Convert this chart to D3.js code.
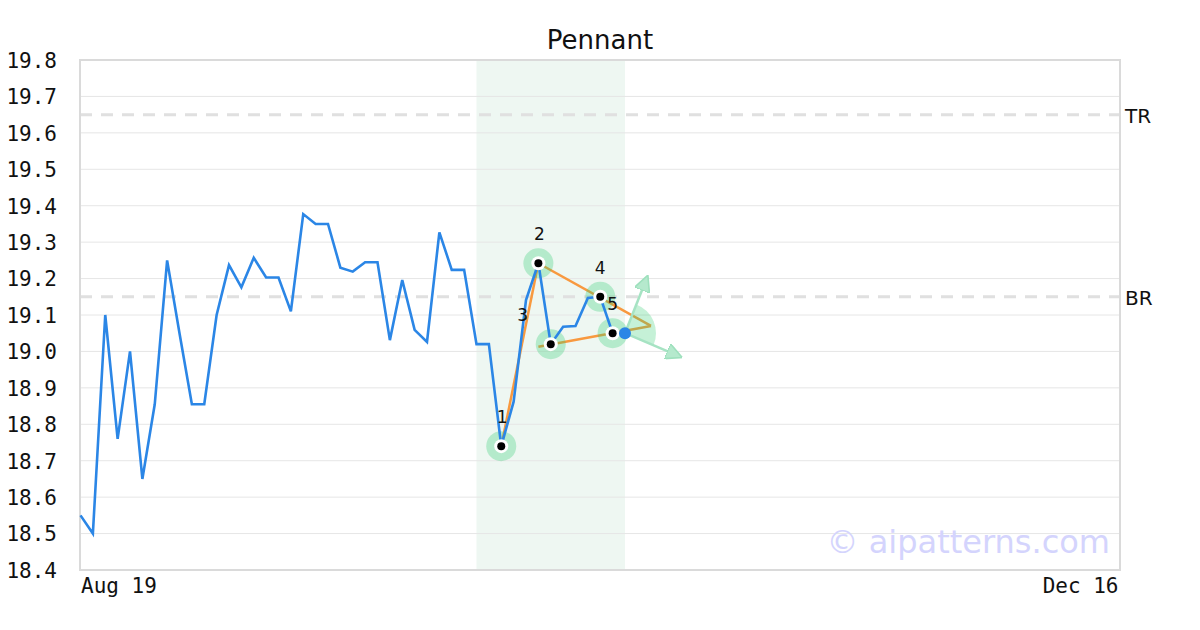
<!DOCTYPE html>
<html><head><meta charset="utf-8">
<script src="https://cdn.jsdelivr.net/npm/d3@7"></script>
<style>body{margin:0;background:#fff}svg{display:block}</style>
</head><body>
<svg id="c" width="1200" height="630"></svg>
<script>
const title = "Pennant";
const xTickLabels = ["Aug 19", "Dec 16"];
const xTickIndex = [0, 84];
const yTicks = [18.4,18.5,18.6,18.7,18.8,18.9,19.0,19.1,19.2,19.3,19.4,19.5,19.6,19.7,19.8];
const prices = [18.55,18.50,19.10,18.76,19.00,18.65,18.855,19.25,19.05,18.855,18.855,19.10,19.237,19.176,19.257,19.203,19.203,19.11,19.377,19.35,19.35,19.23,19.219,19.245,19.245,19.031,19.196,19.059,19.026,19.327,19.224,19.224,19.02,19.02,18.74,18.862,19.141,19.242,19.02,19.068,19.07,19.147,19.15,19.05,19.05];
const pivotIndex = [34, 37, 38, 42, 43];
const pivotLabels = ["1","2","3","4","5"];
const bandRange = [32, 44];
const levelNames = ["TR", "BR"];
const levelValues = [19.65, 19.15];
const poleLine = [[34, 18.74], [37, 19.242]];
const upperTrend = [[37, 19.242], [46.1, 19.07]];
const lowerTrend = [[37, 19.013], [46.1, 19.07]];
const arrowUp = [[44, 19.05], [45.8, 19.205]];
const arrowDown = [[44, 19.05], [48.5, 18.985]];
const watermark = "© aipatterns.com";

const svg = d3.select("#c");
const L = 80, R = 1120, T = 60, B = 570;
const x = d3.scaleLinear().domain([0, 84]).range([L + 0.5, R]);
const y = d3.scaleLinear().domain([18.4, 19.8]).range([B, T]);

// band
svg.append("rect").attr("x", x(bandRange[0])).attr("y", T)
  .attr("width", x(bandRange[1]) - x(bandRange[0])).attr("height", B - T)
  .attr("fill", "#eef7f2");

// grid
svg.append("g").selectAll("line").data(yTicks).join("line")
  .attr("x1", L).attr("x2", R).attr("y1", d => y(d)).attr("y2", d => y(d))
  .attr("stroke", "#e6e6e6").attr("stroke-width", 1);

// levels
svg.append("g").selectAll("line").data(levelValues).join("line")
  .attr("x1", L).attr("x2", R).attr("y1", d => y(d)).attr("y2", d => y(d))
  .attr("stroke", "#e0e0e0").attr("stroke-width", 3).attr("stroke-dasharray", "12,9");
svg.append("g").selectAll("text").data(levelNames).join("text")
  .attr("x", R + 5).attr("y", (d, i) => y(levelValues[i]) + 8)
  .attr("font-family", "DejaVu Sans").attr("font-size", 20).attr("fill", "#111").text(d => d);

// y axis labels
const yAxis = d3.axisLeft(y).tickValues(yTicks).tickFormat(d3.format(".1f")).tickSize(0).tickPadding(23);
const ya = svg.append("g").attr("transform", `translate(${L},0)`).call(yAxis);
ya.select(".domain").remove();
ya.selectAll("text").attr("font-family", "DejaVu Sans Mono").attr("font-size", 21).attr("fill", "#111").attr("dy", "0.35em");

// x labels
const xAxis = d3.axisBottom(x).tickValues(xTickIndex).tickFormat((d, i) => xTickLabels[i]).tickSize(0).tickPadding(8);
const xa = svg.append("g").attr("transform", `translate(0,${B})`).call(xAxis);
xa.select(".domain").remove();
xa.selectAll("text").attr("font-family", "DejaVu Sans Mono").attr("font-size", 21).attr("fill", "#111")
  .attr("text-anchor", (d, i) => i === 0 ? "start" : "end")
  .attr("dx", (d, i) => i === 0 ? 0 : -2);

// watermark
svg.append("text").attr("x", 1110).attr("y", 553).attr("text-anchor", "end")
  .attr("font-family", "DejaVu Sans").attr("font-size", 32).attr("fill", "#d4d4fd").text(watermark);

// border
svg.append("rect").attr("x", L).attr("y", T).attr("width", R - L).attr("height", B - T)
  .attr("fill", "none").attr("stroke", "#dadada").attr("stroke-width", 2);

// title
svg.append("text").attr("x", 600).attr("y", 49).attr("text-anchor", "middle")
  .attr("font-family", "DejaVu Sans").attr("font-size", 26).attr("fill", "#111").text(title);

const line = d3.line().x(d => x(d[0])).y(d => y(d[1]));

// orange pattern lines
[poleLine, upperTrend, lowerTrend].forEach(seg => {
  svg.append("path").attr("d", line(seg)).attr("fill", "none")
    .attr("stroke", "#f8993f").attr("stroke-width", 2.5);
});

// projection cone
const c0 = [x(arrowUp[0][0]), y(arrowUp[0][1])];
const aU = Math.atan2(y(arrowUp[1][1]) - c0[1], x(arrowUp[1][0]) - c0[0]);
const aD = Math.atan2(y(arrowDown[1][1]) - c0[1], x(arrowDown[1][0]) - c0[0]);
const arc = d3.arc().innerRadius(0).outerRadius(31)
  .startAngle(aU + Math.PI / 2).endAngle(aD + Math.PI / 2);
svg.append("path").attr("d", arc()).attr("transform", `translate(${c0[0]},${c0[1]})`)
  .attr("fill", "#2ecc71").attr("opacity", 0.28);

// arrows
const defs = svg.append("defs");
defs.append("marker").attr("id", "ah").attr("viewBox", "0 0 10 10").attr("refX", 9).attr("refY", 5)
  .attr("markerWidth", 6.5).attr("markerHeight", 6.5).attr("orient", "auto").attr("markerUnits", "strokeWidth")
  .append("path").attr("d", "M0,0 L10,5 L0,10 Z").attr("fill", "#b5e9cd").attr("stroke", "#9ee0bd").attr("stroke-width", 1);
[arrowUp, arrowDown].forEach(seg => {
  svg.append("path").attr("d", line(seg)).attr("fill", "none")
    .attr("stroke", "#a6e3c3").attr("stroke-width", 2.5).attr("marker-end", "url(#ah)");
});

// pivot halos
svg.append("g").selectAll("circle").data(pivotIndex).join("circle")
  .attr("cx", d => x(d)).attr("cy", d => y(prices[d])).attr("r", 15)
  .attr("fill", "#2ecc71").attr("opacity", 0.3);

// price line
svg.append("path").attr("d", line(prices.map((v, i) => [i, v]))).attr("fill", "none")
  .attr("stroke", "#2b86e6").attr("stroke-width", 2.6).attr("stroke-linejoin", "miter");

// pivot markers
const pv = svg.append("g").selectAll("g").data(pivotIndex).join("g")
  .attr("transform", d => `translate(${x(d)},${y(prices[d])})`);
pv.append("circle").attr("r", 7).attr("fill", "#fff");
pv.append("circle").attr("r", 4).attr("fill", "#000");

// pivot labels
const labelDx = [1, 1, -28, 0, 0];
svg.append("g").selectAll("text").data(pivotIndex).join("text")
  .attr("x", (d, i) => x(d) + labelDx[i]).attr("y", d => y(prices[d]) - 23)
  .attr("text-anchor", "middle").attr("font-family", "DejaVu Sans").attr("font-size", 17).attr("fill", "#111")
  .text((d, i) => pivotLabels[i]);

// last point
const last = prices.length - 1;
svg.append("circle").attr("cx", x(last)).attr("cy", y(prices[last])).attr("r", 6).attr("fill", "#2b86e6");
</script>
</body></html>
